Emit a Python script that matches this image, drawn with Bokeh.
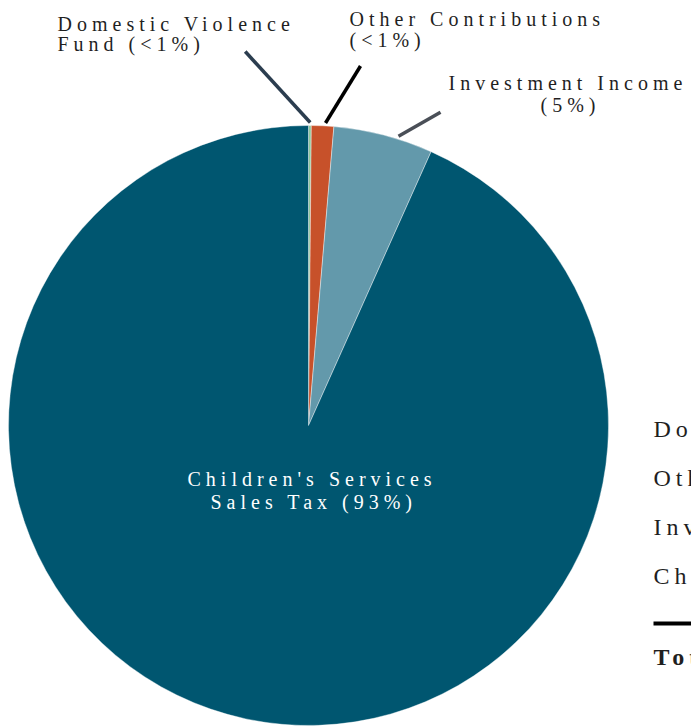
import numpy as np
from bokeh.plotting import figure
from bokeh.models import Range1d, InlineStyleSheet
from bokeh.core.properties import value
from bokeh.embed import file_html
from bokeh.resources import INLINE

# ---- data ----
categories = ["Domestic Violence Fund", "Other Contributions",
              "Investment Income", "Children's Services Sales Tax"]
shares = [0.15, 1.2, 5.35, 93.3]
pct_labels = ["<1%", "<1%", "5%", "93%"]
colors = ["#8FC79B", "#C7512A", "#6399AB", "#005670"]
label_lines = [["Domestic Violence", "Fund (<1%)"],
               ["Other Contributions", "(<1%)"],
               ["Investment Income", "(5%)"],
               ["Children's Services", "Sales Tax (93%)"]]
table_rows = ["Domestic Violence Fund", "Other Contributions",
              "Investment Income", "Children's Services Sales Tax"]
total_label = "Total"

# ---- layout ----
W, H = 691, 726
cx, cy, R = 308, 301, 300
FONT = value("Liberation Serif")
DY = 8  # text baseline correction

p = figure(width=W, height=H, x_range=Range1d(0, W), y_range=Range1d(0, H),
           output_backend="svg", toolbar_location=None, min_border=0)
p.axis.visible = False
p.grid.visible = False
p.outline_line_color = None
p.background_fill_color = "white"
p.border_fill_color = "white"
p.stylesheets = [InlineStyleSheet(css=":host { letter-spacing: 5px; }")]

cum = np.concatenate([[0.0], np.cumsum(shares)])
start = np.pi / 2 - 2 * np.pi * cum[:-1] / 100
end = np.pi / 2 - 2 * np.pi * cum[1:] / 100
p.wedge(x=cx, y=cy, radius=R, start_angle=start, end_angle=end,
        direction="clock", fill_color=colors, line_color="white", line_width=0.4)

# leader lines for the three small slices
lead_frac = [0.6, 0.62, 0.645]
lead_vec = [(-65, 71), (35, 57), (42, 24)]
lead_col = ["#2B3D4F", "#000000", "#4A4F57"]
for i in range(3):
    a = np.pi / 2 - 2 * np.pi * (cum[i] + lead_frac[i] * shares[i]) / 100
    x0, y0 = cx + (R + 3) * np.cos(a), cy + (R + 3) * np.sin(a)
    p.segment(x0=x0, y0=y0, x1=x0 + lead_vec[i][0], y1=y0 + lead_vec[i][1],
              line_color=lead_col[i], line_width=3.5)

# outside labels (left edge of each line, baselines)
lab_x = [(57, 57), (349, 349), (448, 540)]
lab_y = [(695, 675), (700, 679), (636, 614)]
for i in range(3):
    p.text(x=list(lab_x[i]), y=[v + DY for v in lab_y[i]], text=label_lines[i],
           text_align="left", text_baseline="alphabetic", text_font=FONT,
           text_font_size="20px", text_color="#1f1f1f")

# inside label
p.text(x=[187, 210], y=[240 + DY, 217 + DY], text=label_lines[3], text_align="left",
       text_baseline="alphabetic", text_font=FONT, text_font_size="20px",
       text_color="white")

# right-hand table
row_y = [290, 241, 192, 143]
p.text(x=[653] * 4, y=[v + DY for v in row_y], text=table_rows, text_align="left",
       text_baseline="alphabetic", text_font=FONT, text_font_size="24px",
       text_color="#1f1f1f")
p.segment(x0=653, y0=103, x1=W + 10, y1=103, line_color="black", line_width=4)
p.text(x=[653], y=[62 + DY], text=[total_label], text_align="left",
       text_baseline="alphabetic", text_font=FONT, text_font_size="24px",
       text_font_style="bold", text_color="#1f1f1f")

open("out.html", "w").write(file_html(p, INLINE))
